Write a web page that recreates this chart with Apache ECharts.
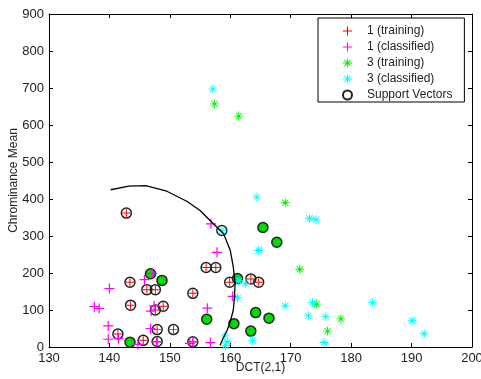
<!DOCTYPE html>
<html>
<head>
<meta charset="utf-8">
<script src="https://cdn.jsdelivr.net/npm/echarts@6/dist/echarts.min.js"></script>
<style>html,body{margin:0;padding:0;background:#fff;}#c{width:481px;height:379px;}</style>
</head>
<body>
<div id="c"></div>
<script>
// x ticks / y ticks
var xTicks = [130, 200, 10];
var yTicks = [0, 900, 100];

// 1 (training) - red +
var train1 = [[142.8,362],[143.4,175],[143.5,113],[146.2,155],[147.6,155],[141.4,35],[145.6,18],[147.9,47],[147.9,15],[147.6,100],[148.9,110],[150.6,47],[153.8,145],[153.8,14],[156.0,215],[157.6,215],[159.9,175],[163.4,184],[164.7,175]];
// 1 (classified) - magenta +
var class1 = [[140.0,158],[137.5,109],[138.3,104],[139.8,57],[139.8,21],[141.5,23],[145.8,182],[147.1,199],[147.4,111],[146.9,97],[146.8,50],[144.7,7],[147.8,14],[156.2,105],[156.7,12],[157.8,256],[156.8,333],[160.4,137],[153.3,10],[153.8,14]];
// 3 (training) - green *
var train3 = [[146.8,198],[148.7,180],[143.4,13],[156.1,75],[160.6,63],[163.4,43],[164.2,93],[161.2,185],[165.4,323],[167.7,283],[166.4,78],[157.4,657],[161.4,624],[169.1,390],[171.5,210],[174.3,116],[178.3,76],[176.1,43]];
// 3 (classified) - cyan *
var class3 = [[157.1,697],[164.4,405],[173.1,348],[174.2,344],[164.7,261],[161.4,179],[162.5,172],[161.2,133],[169.1,111],[173.6,120],[172.9,84],[175.8,82],[183.5,120],[190.1,71],[192.1,36],[163.7,18],[175.5,12],[159.1,30],[159.5,14],[159.2,4],[158.6,315]];
// Support vectors (class 1 side: hollow)
var sv1 = [[142.8,362],[143.4,175],[143.5,113],[146.2,155],[147.6,155],[141.4,35],[145.6,18],[147.9,47],[147.9,15],[147.6,100],[148.9,110],[150.6,47],[153.8,145],[153.8,14],[156.0,215],[157.6,215],[159.9,175],[163.4,184],[164.7,175],[158.6,315]];
// Support vectors (class 3 side: filled)
var sv3 = [[146.8,198],[148.7,180],[143.4,13],[156.1,75],[160.6,63],[163.4,43],[164.2,93],[161.2,185],[165.4,323],[167.7,283],[166.4,78]];
// decision boundary
var boundary = [[140.2,425],[143.2,435],[146.0,436],[149.5,421],[152.8,394],[155.0,369],[157.2,333],[158.9,306],[160.0,261],[160.5,216],[160.8,172],[160.7,136],[160.5,100],[160.0,68],[159.5,46],[158.8,23],[158.3,5]];

var legendNames = ['1 (training)','1 (classified)','3 (training)','3 (classified)','Support Vectors'];

var PLUS = 'path://M4.4,0H5.6V10H4.4Z M0,4.4H10V5.6H0Z';
var STAR = 'path://M4.5,0H5.5V10H4.5Z M0,4.5H10V5.5H0Z M1.2,1.9L1.9,1.2L8.8,8.1L8.1,8.8Z M8.1,1.2L8.8,1.9L1.9,8.8L1.2,8.1Z';
var FONT = 'Liberation Sans, Arial, sans-serif';

function axisX(pos, show) {
  return {
    type:'value', min:xTicks[0], max:xTicks[1], interval:xTicks[2], position:pos,
    axisLine:{onZero:false, lineStyle:{color:'#000', width:1}},
    axisTick:{inside:true, length:4, lineStyle:{color:'#000'}},
    splitLine:{show:false},
    axisLabel:{show:show, fontSize:13, color:'#222', margin:5, fontFamily:FONT},
    name: show ? 'DCT(2,1)' : '', nameLocation:'middle', nameGap:15, nameMoveOverlap:false,
    nameTextStyle:{fontSize:12, color:'#222', fontFamily:FONT}
  };
}
function axisY(pos, show) {
  return {
    type:'value', min:yTicks[0], max:yTicks[1], interval:yTicks[2], position:pos,
    axisLine:{onZero:false, lineStyle:{color:'#000', width:1}},
    axisTick:{inside:true, length:4, lineStyle:{color:'#000'}},
    splitLine:{show:false},
    axisLabel:{show:show, fontSize:13, color:'#222', margin:5, fontFamily:FONT},
    name: show ? 'Chrominance Mean' : '', nameLocation:'middle', nameGap:29, nameMoveOverlap:false,
    nameTextStyle:{fontSize:12, color:'#222', fontFamily:FONT}
  };
}

var chart = echarts.init(document.getElementById('c'), null, {renderer:'canvas'});
chart.setOption({
  animation:false,
  backgroundColor:'#fff',
  grid:{left:49, right:9, top:14, bottom:32, containLabel:false, outerBoundsMode:'none'},
  xAxis:[axisX('bottom', true), axisX('top', false)],
  yAxis:[axisY('left', true), axisY('right', false)],
  legend:{
    data:legendNames, orient:'vertical', left:318, top:18,
    backgroundColor:'#fff', borderColor:'#000', borderWidth:1,
    padding:[7,12,1,24], itemWidth:9, itemHeight:9, itemGap:4,
    textStyle:{fontSize:12, color:'#222', fontFamily:FONT, padding:[0,0,0,10]}
  },
  series:[
    {name:'1 (training)', type:'scatter', data:train1, symbol:PLUS, symbolSize:8, itemStyle:{color:'#ff0000', opacity:1}, z:2},
    {name:'3 (training)', type:'scatter', data:train3, symbol:STAR, symbolSize:9, itemStyle:{color:'#00ee00', opacity:1}, z:2},
    {name:'Support Vectors', type:'scatter', data:sv1, symbol:'circle', symbolSize:10, itemStyle:{color:'rgba(255,255,255,0)', borderColor:'#222', borderWidth:1.5, opacity:1}, z:3},
    {name:'Support Vectors', type:'scatter', data:sv3, symbol:'circle', symbolSize:10, itemStyle:{color:'#00dd00', borderColor:'#222', borderWidth:1.5, opacity:1}, z:3},
    {name:'1 (classified)', type:'scatter', data:class1, symbol:PLUS, symbolSize:10, itemStyle:{color:'#ff00ff', opacity:1}, z:4},
    {name:'3 (classified)', type:'scatter', data:class3, symbol:STAR, symbolSize:9, itemStyle:{color:'#00ffff', opacity:1}, z:4},
    {name:'boundary', type:'line', data:boundary, showSymbol:false, symbol:'none', lineStyle:{color:'#000', width:1.3}, z:5}
  ]
});
</script>
</body>
</html>
